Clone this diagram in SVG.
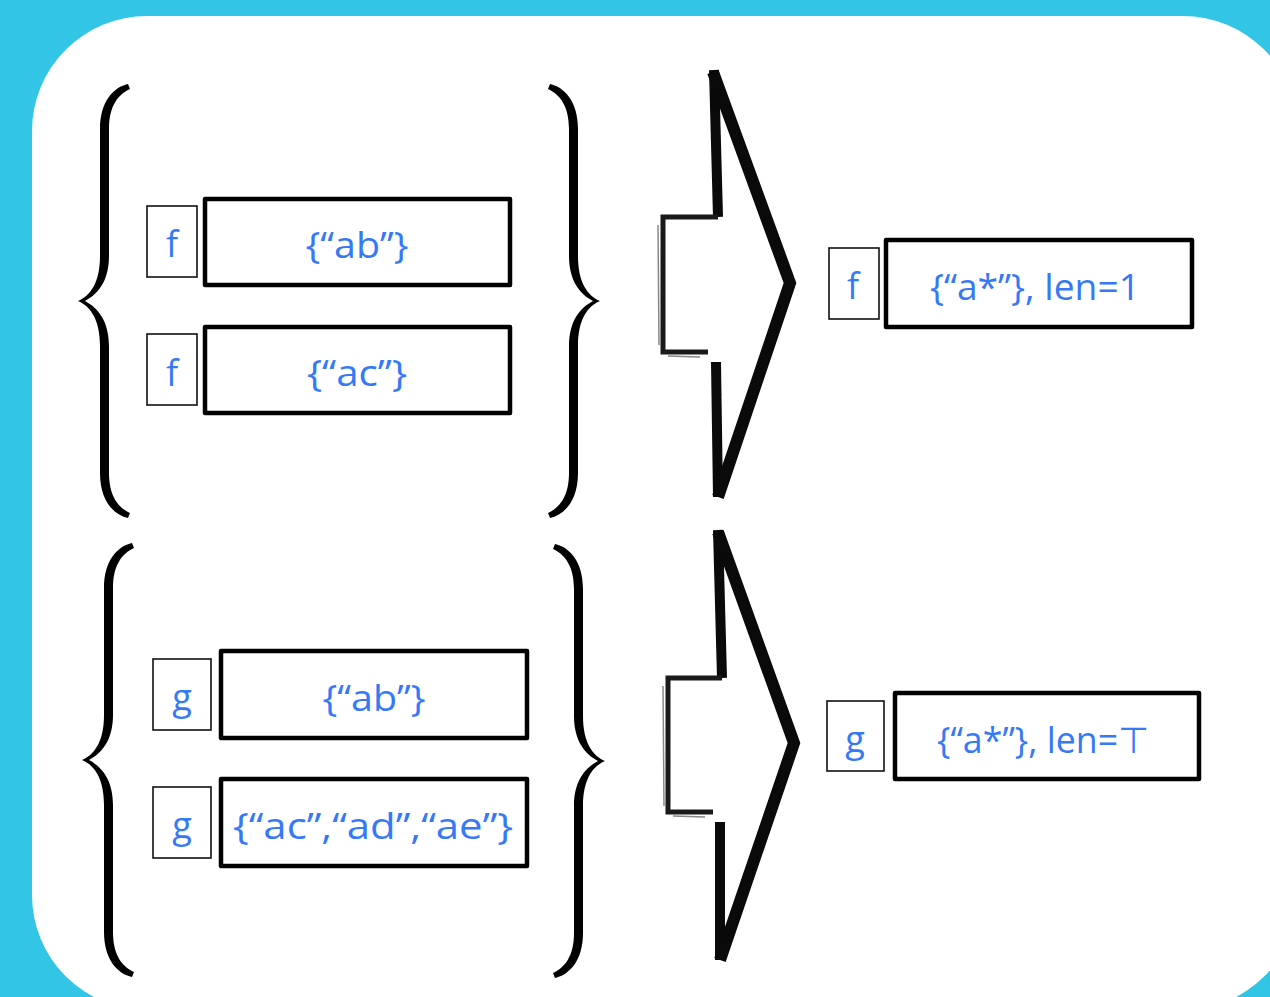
<svg xmlns="http://www.w3.org/2000/svg" width="1270" height="997" viewBox="0 0 1270 997">
<style>
.lbl{font-family:"Open Sans","Liberation Sans",sans-serif;font-size:36px;fill:#3579f6;text-anchor:middle}
.small{fill:#fff;stroke:#111;stroke-width:1.6}
.big{fill:#fff;stroke:#000;stroke-width:4.5;stroke-linejoin:round}
.brace{fill:#000}
.arw{fill:none;stroke:#0a0a0a;stroke-linejoin:miter;stroke-linecap:butt}
.thick{stroke-width:12}
.vert{stroke-width:10}
.thin{stroke-width:5;stroke:#1a1a1a}
.sk{fill:none;stroke:#555;stroke-width:1.5;stroke-opacity:0.7}
</style>
<defs>
<path id="brace" d="M50,-217 C36,-214 22,-200 22,-172 L22,-45 C22,-18 12,-5 0,0 C12,5 22,18 22,45 L22,172 C22,200 36,214 50,217 L52,212 C41,207 31,196 31,172 L31,45 C31,20 20,7 7,0 C20,-7 31,-20 31,-45 L31,-172 C31,-196 41,-207 52,-212 Z"/>
</defs>
<rect x="0" y="0" width="1270" height="997" fill="#33c5e6"/>
<rect x="32" y="16" width="1266" height="994" rx="115" ry="115" fill="#fff"/>

<g id="braces">
<use href="#brace" class="brace" transform="translate(78,301)"/>
<use href="#brace" class="brace" transform="translate(600,301) scale(-1,1)"/>
<use href="#brace" class="brace" transform="translate(82,760)"/>
<use href="#brace" class="brace" transform="translate(605,761) scale(-1,1)"/>
</g>

<g id="connectors">
<g id="arrow-top">
<path class="arw vert" d="M714,70 L718,217"/>
<path class="arw thin" d="M718,217 L663,217 L663,352 L708,352"/>
<path class="arw vert" d="M716,362 L718,497"/>
<path class="arw thick" d="M713,72 L790,283 L718,497"/>
<path class="sk" d="M658,225 L659,345 M668,356 L700,357"/>
</g>
<g id="arrow-bottom">
<path class="arw vert" d="M718,530 L722,678"/>
<path class="arw thin" d="M722,678 L668,678 L668,812 L713,812"/>
<path class="arw vert" d="M720,822 L720,960"/>
<path class="arw thick" d="M718,532 L794,743 L720,960"/>
<path class="sk" d="M663,686 L664,806 M673,816 L705,817"/>
</g>
</g>

<g id="node-f1">
<rect class="small" x="147" y="206" width="50" height="71"/>
<text class="lbl" x="172" y="257">f</text>
</g>
<g id="node-ab1">
<rect class="big" x="205" y="199" width="305" height="86"/>
<text class="lbl" x="357" y="258" textLength="103" lengthAdjust="spacingAndGlyphs">{“ab”}</text>
</g>
<g id="node-f2">
<rect class="small" x="147" y="334" width="50" height="71"/>
<text class="lbl" x="172" y="386">f</text>
</g>
<g id="node-ac1">
<rect class="big" x="205" y="327" width="305" height="86"/>
<text class="lbl" x="357" y="386" textLength="100" lengthAdjust="spacingAndGlyphs">{“ac”}</text>
</g>

<g id="node-f-out">
<rect class="small" x="829" y="248" width="50" height="71"/>
<text class="lbl" x="853" y="299">f</text>
</g>
<g id="node-a-len1">
<rect class="big" x="886" y="240" width="306" height="87"/>
<text class="lbl" x="1035" y="300" textLength="210" lengthAdjust="spacingAndGlyphs">{“a*”}, len=1</text>
</g>

<g id="node-g1">
<rect class="small" x="153" y="659" width="58" height="71"/>
<text class="lbl" x="182" y="710">g</text>
</g>
<g id="node-ab2">
<rect class="big" x="221" y="651" width="306" height="87"/>
<text class="lbl" x="374" y="711" textLength="103" lengthAdjust="spacingAndGlyphs">{“ab”}</text>
</g>
<g id="node-g2">
<rect class="small" x="153" y="787" width="58" height="71"/>
<text class="lbl" x="182" y="838">g</text>
</g>
<g id="node-acadae">
<rect class="big" x="221" y="779" width="306" height="87"/>
<text class="lbl" x="373" y="839" textLength="280" lengthAdjust="spacingAndGlyphs">{“ac”,“ad”,“ae”}</text>
</g>

<g id="node-g-out">
<rect class="small" x="827" y="701" width="57" height="70"/>
<text class="lbl" x="855" y="752">g</text>
</g>
<g id="node-a-lentop">
<rect class="big" x="895" y="693" width="304" height="86"/>
<text class="lbl" x="1043" y="753" textLength="212" lengthAdjust="spacingAndGlyphs">{“a*”}, len=⊤</text>
</g>
</svg>
